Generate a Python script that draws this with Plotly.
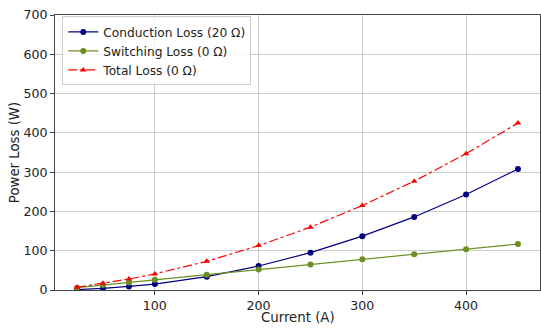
import plotly.graph_objects as go

current = [25, 50, 75, 100, 150, 200, 250, 300, 350, 400, 450]
conduction = [1, 4, 9, 15, 34, 61, 95, 137, 186, 243, 308]
switching = [6, 13, 19, 26, 39, 52, 65, 78, 91, 104, 117]
total = [7, 17, 28, 41, 73, 113, 160, 215, 277, 347, 425]

names = ["Conduction Loss (20 Ω)", "Switching Loss (0 Ω)", "Total Loss (0 Ω)"]

fig = go.Figure()
fig.add_trace(go.Scatter(x=current, y=conduction, mode="lines+markers", name=names[0],
                         line=dict(color="#000080", width=1.2),
                         marker=dict(symbol="circle", size=6, color="#000080")))
fig.add_trace(go.Scatter(x=current, y=switching, mode="lines+markers", name=names[1],
                         line=dict(color="#6b8e23", width=1.2),
                         marker=dict(symbol="circle", size=6, color="#6b8e23")))
fig.add_trace(go.Scatter(x=current, y=total, mode="lines+markers", name=names[2],
                         line=dict(color="#ff0000", width=1.2, dash="dashdot"),
                         marker=dict(symbol="triangle-up", size=6, color="#ff0000")))

axis_common = dict(showline=True, linecolor="#444", linewidth=1, mirror=True,
                   showgrid=True, gridcolor="#cccccc", gridwidth=1,
                   ticks="outside", ticklen=4, tickcolor="#444",
                   zeroline=False, tickfont=dict(size=12.6, color="#222"))

fig.update_layout(
    width=541, height=332,
    margin=dict(l=55, r=1, t=15, b=42),
    paper_bgcolor="white", plot_bgcolor="white",
    font=dict(family="DejaVu Sans", size=12.6, color="#222"),
    showlegend=True,
    legend=dict(x=0.015, y=0.995, xanchor="left", yanchor="top",
                bgcolor="rgba(255,255,255,0.8)", bordercolor="#cccccc", borderwidth=1,
                font=dict(size=12.2), tracegroupgap=0, itemwidth=30),
    xaxis=dict(range=[3.75, 471.25], tickvals=[100, 200, 300, 400], **axis_common),
    yaxis=dict(range=[0, 700], tickvals=[0, 100, 200, 300, 400, 500, 600, 700],
               title=dict(text="Power Loss (W)", font=dict(size=13.3), standoff=0), **axis_common),
    annotations=[dict(text="Current (A)", x=0.5, y=0, xref="paper", yref="paper",
                      xanchor="center", yanchor="middle", yshift=-27, showarrow=False,
                      font=dict(size=13.3, color="#222"))],
)

fig.write_html("out.html")
